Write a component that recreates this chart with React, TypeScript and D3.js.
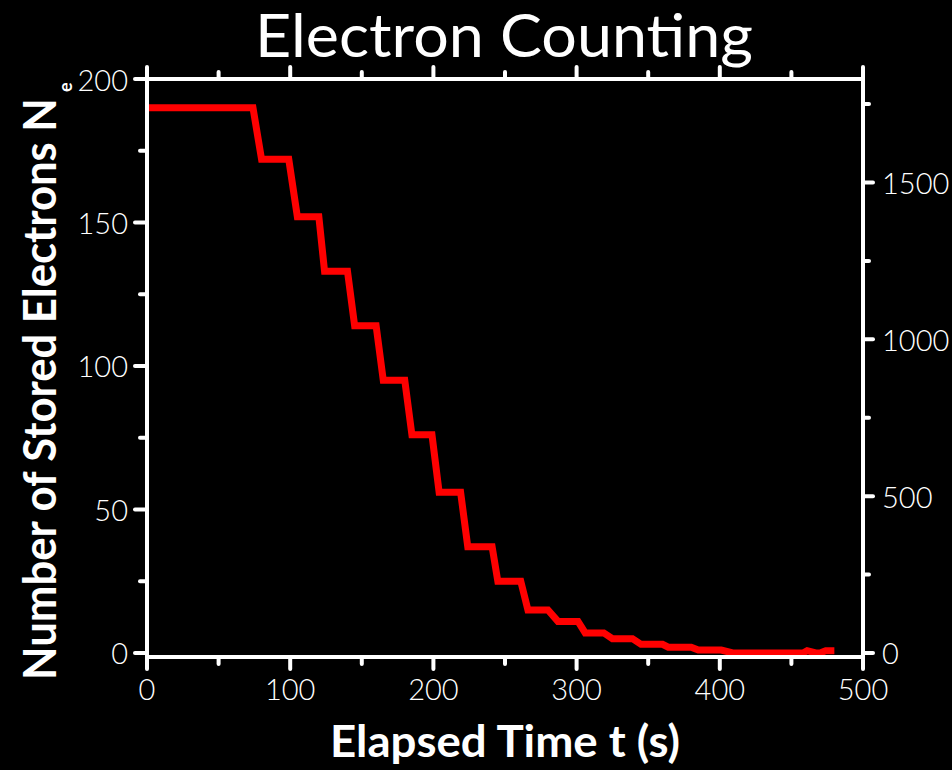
import * as d3 from "d3";
import { useEffect, useRef } from "react";

// step trace (time in s, stored electrons)
const times = [
  0, 74, 80, 99, 105, 120, 124, 140, 145, 160, 165, 180, 185, 199, 204, 219,
  224, 241, 245, 261, 266, 280, 287, 301, 306, 319, 325, 339, 345, 360, 364,
  380, 385, 401, 409, 458, 461, 467, 470, 474, 480,
];
const counts = [
  190, 190, 172, 172, 152, 152, 133, 133, 114, 114, 95, 95, 76, 76, 56, 56,
  37, 37, 25, 25, 15, 15, 11, 11, 7, 7, 5, 5, 3, 3, 2,
  2, 1, 1, 0, 0, 0.8, 0, 0, 0.8, 0.8,
];

const xTicks = [0, 100, 200, 300, 400, 500];
const xMinor = [50, 150, 250, 350, 450];
const yTicks = [0, 50, 100, 150, 200];
const yMinor = [25, 75, 125, 175];
const rTicks = [0, 500, 1000, 1500];
const rMinor = [250, 750, 1250, 1750];

const W = 952;
const H = 770;
const FONT = "Lato, 'Open Sans', sans-serif";

export default function App() {
  const ref = useRef<SVGSVGElement>(null);

  useEffect(() => {
    const svg = d3.select(ref.current);
    svg.selectAll("*").remove();

    const left = 147, right = 863, top = 79, bottom = 657;
    const x = d3.scaleLinear().domain([0, 500]).range([left, right]);
    const y = d3.scaleLinear().domain([-1.4, 200]).range([bottom, top]);
    const ratio = 9.15;
    const yR = d3.scaleLinear().domain([-1.4 * ratio, 200 * ratio]).range([bottom, top]);

    svg.append("rect").attr("width", W).attr("height", H).attr("fill", "black");

    // trace
    const pts = times.map((t, i) => [t, counts[i]] as [number, number]);
    const line = d3
      .line<[number, number]>()
      .x((d) => x(d[0]))
      .y((d) => y(d[1]));
    svg
      .append("path")
      .datum(pts)
      .attr("d", line)
      .attr("fill", "none")
      .attr("stroke", "#ff0000")
      .attr("stroke-width", 7)
      .attr("stroke-linejoin", "miter");

    // frame
    svg
      .append("rect")
      .attr("x", left)
      .attr("y", top)
      .attr("width", right - left)
      .attr("height", bottom - top)
      .attr("fill", "none")
      .attr("stroke", "white")
      .attr("stroke-width", 4);

    const tick = (x1: number, y1: number, x2: number, y2: number) =>
      svg
        .append("line")
        .attr("x1", x1)
        .attr("y1", y1)
        .attr("x2", x2)
        .attr("y2", y2)
        .attr("stroke", "white")
        .attr("stroke-width", 4)
        .attr("stroke-linecap", "round");

    const MAJ = 12, MIN = 7;
    xTicks.forEach((t) => {
      tick(x(t), bottom, x(t), bottom + MAJ);
      tick(x(t), top, x(t), top - MAJ);
    });
    xMinor.forEach((t) => {
      tick(x(t), bottom, x(t), bottom + MIN);
      tick(x(t), top, x(t), top - MIN);
    });
    yTicks.forEach((t) => tick(left, y(t), left - MAJ, y(t)));
    yMinor.forEach((t) => tick(left, y(t), left - MIN, y(t)));
    rTicks.forEach((t) => tick(right, yR(t), right + 10, yR(t)));
    rMinor.forEach((t) => tick(right, yR(t), right + 6, yR(t)));

    const label = (txt: string, px: number, py: number, anchor: string) =>
      svg
        .append("text")
        .attr("x", px)
        .attr("y", py)
        .attr("text-anchor", anchor)
        .attr("dominant-baseline", "central")
        .attr("fill", "white")
        .attr("font-family", FONT)
        .attr("font-weight", 300)
        .attr("font-size", 29)
        .text(txt);

    xTicks.forEach((t) => label(String(t), x(t), 688, "middle"));
    yTicks.forEach((t) => label(String(t), 128, y(t), "end"));
    rTicks.forEach((t) => label(String(t), 882, yR(t), "start"));

    // title
    svg
      .append("text")
      .attr("x", 504)
      .attr("y", 57)
      .attr("text-anchor", "middle")
      .attr("fill", "white")
      .attr("font-family", FONT)
      .attr("font-weight", 400)
      .attr("font-size", 60)
      .attr("textLength", 498)
      .attr("lengthAdjust", "spacingAndGlyphs")
      .text("Electron Counting");

    // x title
    svg
      .append("text")
      .attr("x", 505)
      .attr("y", 757)
      .attr("text-anchor", "middle")
      .attr("fill", "white")
      .attr("font-family", FONT)
      .attr("font-weight", 700)
      .attr("font-size", 44)
      .attr("textLength", 350)
      .attr("lengthAdjust", "spacingAndGlyphs")
      .text("Elapsed Time t (s)");

    // y title
    svg
      .append("text")
      .attr("transform", "translate(56,680) rotate(-90)")
      .attr("text-anchor", "start")
      .attr("fill", "white")
      .attr("font-family", FONT)
      .attr("font-weight", 700)
      .attr("font-size", 46)
      .attr("textLength", 582)
      .attr("lengthAdjust", "spacingAndGlyphs")
      .text("Number of Stored Electrons N");
    svg
      .append("text")
      .attr("transform", "translate(72,92) rotate(-90)")
      .attr("fill", "white")
      .attr("font-family", FONT)
      .attr("font-weight", 700)
      .attr("font-size", 18)
      .text("e");
  }, []);

  return (
    <div style={{ position: "absolute", left: 0, top: 0, width: W, height: H, background: "black" }}>
      <svg ref={ref} width={W} height={H} style={{ display: "block" }} />
    </div>
  );
}
